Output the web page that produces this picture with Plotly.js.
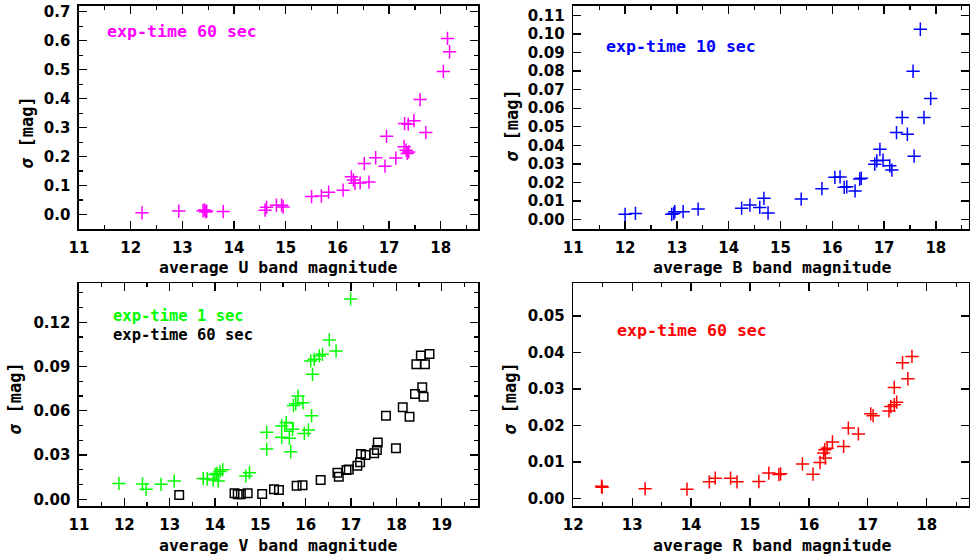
<!DOCTYPE html>
<html>
<head>
<meta charset="utf-8">
<script src="https://cdn.plot.ly/plotly-3.0.1.min.js"></script>
<style>html,body{margin:0;padding:0;background:#fff;}#chart{width:970px;height:555px;}</style>
</head>
<body>
<div id="chart"></div>
<script>
// ---- U band, exp-time 60 sec (magenta) ----
const uX = [12.22, 12.93, 13.40, 13.43, 13.45, 13.47, 13.79, 14.60, 14.63, 14.82, 14.92, 14.95, 15.50, 15.69, 15.83, 16.11, 16.27, 16.31, 16.34, 16.44, 16.61, 16.52, 16.74, 16.92, 16.95, 17.13, 17.29, 17.33, 17.35, 17.38, 17.30, 17.37, 17.48, 17.60, 17.71, 18.05, 18.13, 18.17];
const uY = [0.006, 0.012, 0.013, 0.016, 0.009, 0.012, 0.010, 0.015, 0.025, 0.032, 0.032, 0.026, 0.062, 0.064, 0.077, 0.084, 0.130, 0.119, 0.108, 0.109, 0.112, 0.176, 0.196, 0.167, 0.270, 0.195, 0.234, 0.222, 0.211, 0.216, 0.314, 0.312, 0.324, 0.397, 0.283, 0.494, 0.608, 0.562];

// ---- B band, exp-time 10 sec (blue) ----
const bX = [12.00, 12.20, 12.90, 12.94, 12.96, 13.12, 13.41, 14.25, 14.41, 14.60, 14.68, 14.76, 15.40, 15.80, 16.05, 16.15, 16.23, 16.28, 16.44, 16.53, 16.56, 16.82, 16.86, 16.92, 16.98, 17.11, 17.15, 17.24, 17.35, 17.45, 17.58, 17.56, 17.70, 17.77, 17.90];
const bY = [0.0029, 0.0034, 0.0029, 0.0034, 0.0043, 0.0043, 0.0057, 0.0062, 0.0079, 0.0066, 0.0115, 0.0036, 0.0111, 0.0167, 0.0228, 0.0230, 0.0174, 0.0177, 0.0155, 0.0219, 0.0223, 0.0299, 0.0317, 0.0379, 0.0320, 0.0290, 0.0267, 0.0469, 0.0550, 0.0460, 0.0342, 0.0799, 0.1025, 0.0550, 0.0652];

// ---- V band, exp-time 1 sec (green crosses) ----
const vgX = [11.88, 12.40, 12.48, 12.81, 13.10, 13.74, 13.83, 13.96, 14.00, 14.07, 14.04, 14.11, 14.17, 14.68, 14.76, 15.14, 15.14, 15.47, 15.57, 15.47, 15.64, 15.71, 15.67, 15.97, 16.06, 16.13, 15.73, 15.78, 15.83, 15.94, 16.11, 16.19, 16.30, 16.37, 16.15, 16.52, 16.67, 16.99];
const vgY = [0.0108, 0.0104, 0.0068, 0.0102, 0.0124, 0.0142, 0.0138, 0.0131, 0.0169, 0.0124, 0.0176, 0.0188, 0.0201, 0.0158, 0.0181, 0.0454, 0.0341, 0.0497, 0.0520, 0.0420, 0.0414, 0.0475, 0.0323, 0.0447, 0.0470, 0.0567, 0.0636, 0.0648, 0.0700, 0.0655, 0.0938, 0.0949, 0.0972, 0.0983, 0.0847, 0.1080, 0.1006, 0.1358];
const vgSqX = [15.63];
const vgSqY = [0.0490];

// ---- V band, exp-time 60 sec (black squares) ----
const vkX = [13.21, 14.43, 14.50, 14.57, 14.72, 15.04, 15.30, 15.41, 15.80, 15.93, 16.33, 16.70, 16.73, 16.90, 16.95, 17.14, 17.20, 17.22, 17.32, 17.51, 17.57, 17.59, 17.77, 17.99, 18.14, 18.29, 18.41, 18.57, 18.60, 18.44, 18.54, 18.63, 18.73];
const vkY = [0.0029, 0.0041, 0.0035, 0.0035, 0.0041, 0.0036, 0.0068, 0.0063, 0.0092, 0.0096, 0.0131, 0.0181, 0.0154, 0.0199, 0.0203, 0.0228, 0.0251, 0.0307, 0.0301, 0.0312, 0.0334, 0.0386, 0.0567, 0.0346, 0.0624, 0.0560, 0.0714, 0.0759, 0.0696, 0.0915, 0.0974, 0.0915, 0.0985];

// ---- R band, exp-time 60 sec (red) ----
const rX = [12.48, 12.49, 13.22, 13.93, 14.31, 14.41, 14.67, 14.78, 15.15, 15.32, 15.49, 15.52, 15.89, 16.07, 16.19, 16.25, 16.28, 16.27, 16.31, 16.40, 16.59, 16.67, 16.84, 17.05, 17.09, 17.36, 17.39, 17.45, 17.49, 17.45, 17.59, 17.68, 17.75];
const rY = [0.0034, 0.0031, 0.0027, 0.0026, 0.0046, 0.0056, 0.0056, 0.0046, 0.0047, 0.0070, 0.0066, 0.0068, 0.0095, 0.0067, 0.0099, 0.0125, 0.0111, 0.0134, 0.0138, 0.0155, 0.0143, 0.0193, 0.0177, 0.0232, 0.0227, 0.0240, 0.0252, 0.0257, 0.0264, 0.0304, 0.0372, 0.0328, 0.0389];

// axis / legend texts
const xTitles = ['average U band magnitude', 'average B band magnitude', 'average V band magnitude', 'average R band magnitude'];
const yTitle = '<i>σ</i> [mag]';

const W = 970, H = 555;
const MONO = 'DejaVu Sans Mono';

function cross(x, y, color, xa, ya) {
  return {x: x, y: y, xaxis: xa, yaxis: ya, type: 'scatter', mode: 'markers', hoverinfo: 'skip',
    marker: {symbol: 'cross-thin-open', size: 9.5, color: color, line: {color: color, width: 1.5}}};
}
function square(x, y, color, xa, ya) {
  return {x: x, y: y, xaxis: xa, yaxis: ya, type: 'scatter', mode: 'markers', hoverinfo: 'skip',
    marker: {symbol: 'square-open', size: 8.5, color: color, line: {color: color, width: 1.5}}};
}

const traces = [
  cross(uX, uY, '#ff00ff', 'x', 'y'),
  cross(bX, bY, '#0000ff', 'x2', 'y2'),
  cross(vgX, vgY, '#00ff00', 'x3', 'y3'),
  square(vgSqX, vgSqY, '#00ff00', 'x3', 'y3'),
  square(vkX, vkY, '#000000', 'x3', 'y3'),
  cross(rX, rY, '#ff0000', 'x4', 'y4')
];

function axis(domain, range, dtick, minor, anchor, fmt) {
  const a = {
    domain: domain, range: range, anchor: anchor, autorange: false,
    showline: true, linecolor: '#000', linewidth: 1.6, mirror: 'ticks',
    ticks: 'inside', ticklen: 8, tickwidth: 1.3, tickcolor: '#000',
    dtick: dtick, tick0: 0, showgrid: false, zeroline: false,
    tickfont: {family: 'DejaVu Sans', size: 15, color: '#000', weight: 'bold'},
    ticklabelstandoff: 4
  };
  if (fmt) a.tickformat = fmt;
  if (minor) a.minor = {dtick: minor, ticklen: 4, tickwidth: 1.2, tickcolor: '#000', ticks: 'inside', showgrid: false};
  return a;
}

const xL = [79 / W, 478 / W];
const xR = [573.3 / W, 968.5 / W];
const yT = [1 - 229 / H, 1 - 6 / H];
const yB = [1 - 506 / H, 1 - 283.3 / H];

function ann(text, px, py, color, opts, size) {
  return Object.assign({
    text: text, x: px / W, y: 1 - py / H, xref: 'paper', yref: 'paper',
    showarrow: false, xanchor: 'left', yanchor: 'middle',
    font: {family: MONO, size: size || 16.6, color: color, weight: 'bold'}
  }, opts || {});
}

const annotations = [
  ann(xTitles[0], 278, 267, '#000', {xanchor: 'center'}, 16.5),
  ann(xTitles[1], 772, 267, '#000', {xanchor: 'center'}, 16.5),
  ann(xTitles[2], 278, 545, '#000', {xanchor: 'center'}, 16.5),
  ann(xTitles[3], 772, 545, '#000', {xanchor: 'center'}, 16.5),
  ann(yTitle, 27, 133, '#000', {xanchor: 'center', textangle: -90}, 17),
  ann(yTitle, 512, 126, '#000', {xanchor: 'center', textangle: -90}, 17),
  ann(yTitle, 15, 399, '#000', {xanchor: 'center', textangle: -90}, 17),
  ann(yTitle, 510, 399, '#000', {xanchor: 'center', textangle: -90}, 17),
  ann('exp-time 60 sec', 105, 32, '#ff00ff'),
  ann('exp-time 10 sec', 604, 46, '#0000ff'),
  ann('exp-time 1 sec', 111, 316, '#00ff00', null, 15.5),
  ann('exp-time 60 sec', 111, 334.5, '#000000', null, 15.5),
  ann('exp-time 60 sec', 615, 330, '#ff0000')
];

const layout = {
  width: W, height: H, margin: {l: 0, r: 0, t: 0, b: 0},
  paper_bgcolor: '#fff', plot_bgcolor: '#fff', showlegend: false,
  xaxis: axis(xL, [11, 18.72], 1, 0.5, 'y'),
  yaxis: axis(yT, [-0.05, 0.72], 0.1, 0.05, 'x', '.1f'),
  xaxis2: axis(xR, [11, 18.63], 1, 0.5, 'y2'),
  yaxis2: axis(yT, [-0.005, 0.115], 0.01, null, 'x2', '.2f'),
  xaxis3: axis(xL, [11, 19.8], 1, 0.5, 'y3'),
  yaxis3: axis(yB, [-0.0045, 0.1464], 0.03, 0.01, 'x3', '.2f'),
  xaxis4: axis(xR, [12, 18.71], 1, 0.5, 'y4'),
  yaxis4: axis(yB, [-0.002, 0.0589], 0.01, null, 'x4', '.2f'),
  annotations: annotations
};

Plotly.newPlot('chart', traces, layout, {staticPlot: true, displayModeBar: false});
</script>
</body>
</html>
